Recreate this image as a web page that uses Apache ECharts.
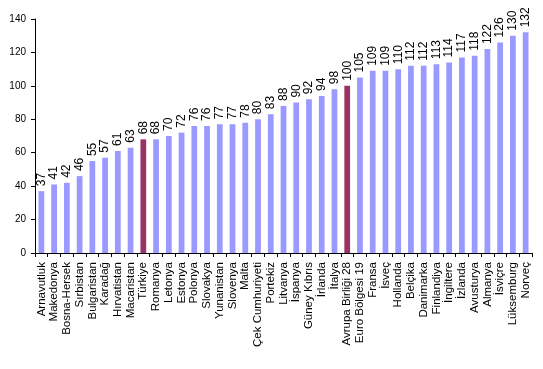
<!DOCTYPE html>
<html><head><meta charset="utf-8">
<script src="https://cdn.jsdelivr.net/npm/echarts@6/dist/echarts.min.js"></script>
<style>html,body{margin:0;padding:0;background:#fff}#c{width:543px;height:369px}</style>
</head><body><div id="c"></div>
<script>
const categories = ["Arnavutluk","Makedonya","Bosna-Hersek","Sırbistan","Bulgaristan","Karadağ","Hırvatistan","Macaristan","Türkiye","Romanya","Letonya","Estonya","Polonya","Slovakya","Yunanistan","Slovenya","Malta","Çek Cumhuriyeti","Portekiz","Litvanya","İspanya","Güney Kıbrıs","İrlanda","İtalya","Avrupa Birliği 28","Euro Bölgesi 19","Fransa","İsveç","Hollanda","Belçika","Danimarka","Finlandiya","İngiltere","İzlanda","Avusturya","Almanya","İsviçre","Lüksemburg","Norveç"];
const values = [37,41,42,46,55,57,61,63,68,68,70,72,76,76,77,77,78,80,83,88,90,92,94,98,100,105,109,109,110,112,112,113,114,117,118,122,126,130,132];
const highlighted = ["Türkiye","Avrupa Birliği 28"];
const chart = echarts.init(document.getElementById('c'));
const font = 'Liberation Sans, Arial, sans-serif';
chart.setOption({
  animation:false,
  grid:{left:35,right:11,top:19,bottom:116,containLabel:false},
  xAxis:{type:'category',data:categories,
    axisLine:{lineStyle:{color:'#000',width:1}},
    axisTick:{show:true,alignWithLabel:false,length:4,lineStyle:{color:'#000'}},
    axisLabel:{rotate:90,interval:0,color:'#000',fontFamily:font,fontSize:11.5,margin:9}},
  yAxis:{type:'value',min:0,max:140,interval:20,
    axisLine:{show:true,lineStyle:{color:'#000'}},
    axisTick:{show:true,length:4,lineStyle:{color:'#000'}},
    splitLine:{show:false},
    axisLabel:{color:'#000',fontFamily:font,fontSize:10,margin:9}},
  series:[{type:'bar',barWidth:'45%',
    data:values.map((v,i)=>({value:v,itemStyle:{color:highlighted.includes(categories[i])?'#993366':'#9999FF'}})),
    label:{show:true,position:'top',rotate:90,align:'left',verticalAlign:'middle',distance:5,color:'#000',fontFamily:font,fontSize:12}}]
});
</script></body></html>
